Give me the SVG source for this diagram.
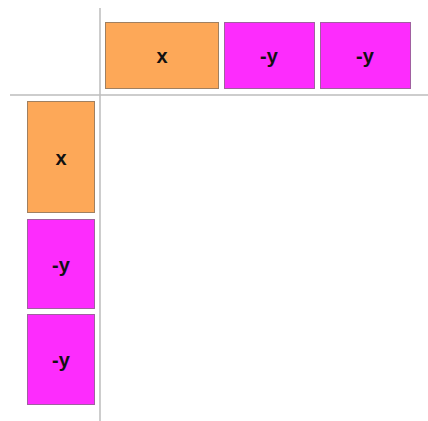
<svg xmlns="http://www.w3.org/2000/svg" width="428" height="421" viewBox="0 0 428 421">
<style>
.o{fill:#fda858;stroke:#a08060;stroke-width:1}
.m{fill:#fd2cfd;stroke:#a060a0;stroke-width:1}
.t{font-family:"Liberation Sans",Arial,sans-serif;font-weight:bold;font-size:20px;fill:#111;text-anchor:middle;dominant-baseline:central}
.ax{stroke:#bdbdbd;stroke-width:1.5;fill:none}
</style>
<rect width="428" height="421" fill="#fff"/>
<g id="axes">
<line class="ax" x1="100" y1="8" x2="100" y2="421"/>
<line class="ax" x1="10" y1="95" x2="428" y2="95"/>
</g>
<g id="top-x"><rect class="o" x="105.5" y="22.5" width="113" height="66"/><text class="t" x="162" y="56">x</text></g>
<g id="top-y1"><rect class="m" x="224.5" y="22.5" width="90" height="66"/><text class="t" x="269" y="56">-y</text></g>
<g id="top-y2"><rect class="m" x="320.5" y="22.5" width="90" height="66"/><text class="t" x="365" y="56">-y</text></g>
<g id="left-x"><rect class="o" x="27.5" y="101.5" width="67" height="111"/><text class="t" x="61" y="158">x</text></g>
<g id="left-y1"><rect class="m" x="27.5" y="219.5" width="67" height="89"/><text class="t" x="61" y="265">-y</text></g>
<g id="left-y2"><rect class="m" x="27.5" y="314.5" width="67" height="90"/><text class="t" x="61" y="360">-y</text></g>
</svg>
